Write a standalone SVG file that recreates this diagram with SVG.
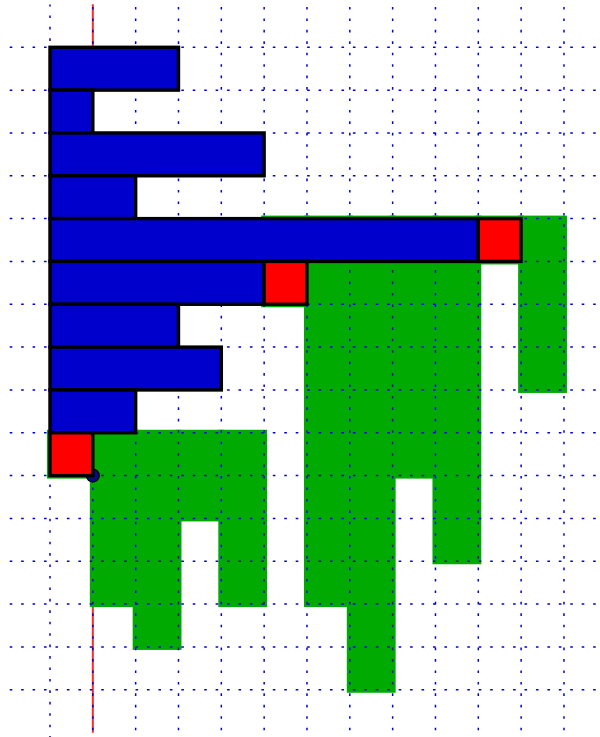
<svg xmlns="http://www.w3.org/2000/svg" width="600" height="737" viewBox="0 0 600 737">
<style>
.g{fill:#00aa00;stroke:#00aa00;stroke-width:6;stroke-linejoin:miter}
.grid{stroke:#0000dd;stroke-width:1.5;stroke-dasharray:2.6 8.84;stroke-dashoffset:8.94;fill:none}
.b{fill:#0000cc;stroke:#000;stroke-width:3.4}
.r{fill:#ff0000;stroke:#000;stroke-width:3.4}
</style>
<rect width="600" height="737" fill="#fff"/>
<g id="axis"><line x1="92.83" y1="4.2" x2="92.83" y2="732.8" stroke="#ff2a2a" stroke-width="2"/></g>
<g id="green">
<rect class="g" x="50" y="432.77" width="42.83" height="42.83"/>
<rect class="g" x="92.83" y="432.77" width="42.83" height="171.32"/>
<rect class="g" x="135.66" y="432.77" width="42.83" height="214.15"/>
<rect class="g" x="178.49" y="432.77" width="42.83" height="85.66"/>
<rect class="g" x="221.32" y="432.77" width="42.83" height="171.32"/>
<rect class="g" x="264.15" y="218.62" width="42.83" height="85.66"/>
<rect class="g" x="306.98" y="218.62" width="42.83" height="385.47"/>
<rect class="g" x="349.81" y="218.62" width="42.83" height="471.13"/>
<rect class="g" x="392.64" y="218.62" width="42.83" height="256.98"/>
<rect class="g" x="435.47" y="218.62" width="42.83" height="342.64"/>
<rect class="g" x="478.3" y="218.62" width="42.83" height="42.83"/>
<rect class="g" x="521.13" y="218.62" width="42.83" height="171.32"/>
</g>
<g id="grid" class="grid">
<path d="M7.2 47.3H600M7.2 90.13H600M7.2 132.96H600M7.2 175.79H600M7.2 218.62H600M7.2 261.45H600M7.2 304.28H600M7.2 347.11H600M7.2 389.94H600M7.2 432.77H600M7.2 475.6H600M7.2 518.43H600M7.2 561.26H600M7.2 604.09H600M7.2 646.92H600M7.2 689.75H600"/>
<path d="M92.83 4.47V737M135.66 4.47V737M178.49 4.47V737M221.32 4.47V737M264.15 4.47V737M306.98 4.47V737M349.81 4.47V737M392.64 4.47V737M435.47 4.47V737M478.3 4.47V737M521.13 4.47V737M563.96 4.47V737"/>
<path d="M50 4.47V737" style="stroke-dashoffset:0.51"/>
</g>
<g id="origin"><circle cx="92.83" cy="475.6" r="6.5" fill="#0a0a80" stroke="#000" stroke-width="1.2"/></g>
<g id="bars">
<g id="bar0"><rect class="b" x="50" y="47.3" width="128.49" height="42.83"/></g>
<g id="bar1"><rect class="b" x="50" y="90.13" width="42.83" height="42.83"/></g>
<g id="bar2"><rect class="b" x="50" y="132.96" width="214.15" height="42.83"/></g>
<g id="bar3"><rect class="b" x="50" y="175.79" width="85.66" height="42.83"/></g>
<g id="bar4"><rect class="b" x="50" y="218.62" width="428.3" height="42.83"/><rect class="r" x="478.3" y="218.62" width="42.83" height="42.83"/></g>
<g id="bar5"><rect class="b" x="50" y="261.45" width="214.15" height="42.83"/><rect class="r" x="264.15" y="261.45" width="42.83" height="42.83"/></g>
<g id="bar6"><rect class="b" x="50" y="304.28" width="128.49" height="42.83"/></g>
<g id="bar7"><rect class="b" x="50" y="347.11" width="171.32" height="42.83"/></g>
<g id="bar8"><rect class="b" x="50" y="389.94" width="85.66" height="42.83"/></g>
<g id="bar9"><rect class="r" x="50" y="432.77" width="42.83" height="42.83"/></g>
</g>
</svg>
